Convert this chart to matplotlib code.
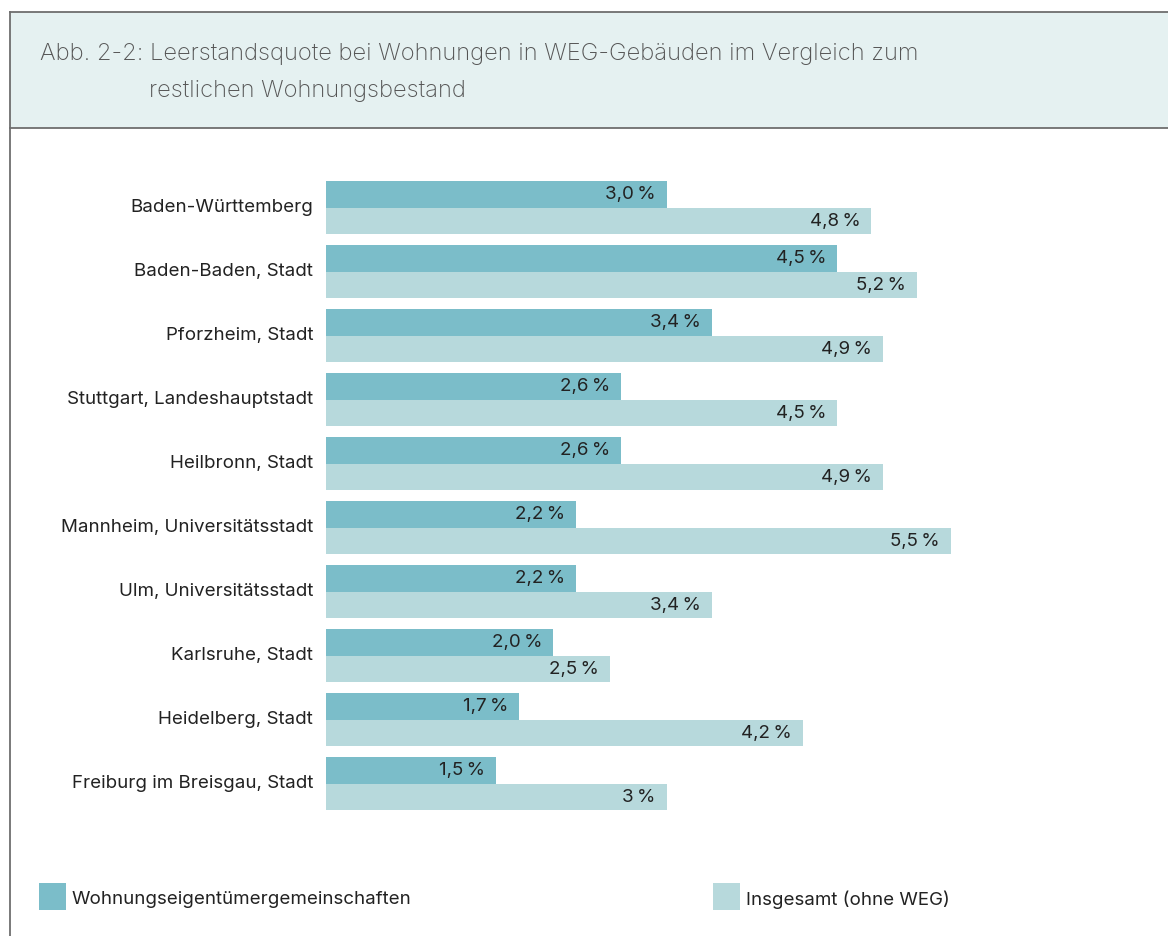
import matplotlib.pyplot as plt
from matplotlib.patches import Rectangle
from matplotlib.lines import Line2D

plt.rcParams['font.family'] = ['Inter', 'DejaVu Sans']

# Daten
regionen = [
    'Baden-Württemberg',
    'Baden-Baden, Stadt',
    'Pforzheim, Stadt',
    'Stuttgart, Landeshauptstadt',
    'Heilbronn, Stadt',
    'Mannheim, Universitätsstadt',
    'Ulm, Universitätsstadt',
    'Karlsruhe, Stadt',
    'Heidelberg, Stadt',
    'Freiburg im Breisgau, Stadt',
]
weg = [3.0, 4.5, 3.4, 2.6, 2.6, 2.2, 2.2, 2.0, 1.7, 1.5]
insgesamt = [4.8, 5.2, 4.9, 4.5, 4.9, 5.5, 3.4, 2.5, 4.2, 3.0]
weg_labels = ['3,0', '4,5', '3,4', '2,6', '2,6', '2,2', '2,2', '2,0', '1,7', '1,5']
ins_labels = ['4,8', '5,2', '4,9', '4,5', '4,9', '5,5', '3,4', '2,5', '4,2', '3']

titel = ['Abb. 2-2: Leerstandsquote bei Wohnungen in WEG-Gebäuden im Vergleich zum',
         'restlichen Wohnungsbestand']
legende = ['Wohnungseigentümergemeinschaften', 'Insgesamt (ohne WEG)']

c_dunkel = '#7bbdc9'
c_hell = '#b7d9dc'
c_rahmen = '#6e6e6e'
fs = 13.5

W, H = 1168, 936
fig = plt.figure(figsize=(W / 100, H / 100), dpi=100)


def fx(px):
    return px / W


def fy(py):
    return 1 - py / H


# Kopfbereich
fig.add_artist(Rectangle((fx(10), fy(128)), fx(W), 116 / H,
                         facecolor='#e5f1f1', edgecolor='none',
                         transform=fig.transFigure))
for y in (12, 128):
    fig.add_artist(Line2D([fx(10), 1], [fy(y), fy(y)], color=c_rahmen,
                          lw=1.3, transform=fig.transFigure))
fig.add_artist(Line2D([fx(10), fx(10)], [fy(12), 0], color=c_rahmen,
                      lw=1.3, transform=fig.transFigure))

fig.text(fx(40), fy(54), titel[0], fontsize=17.1, color='#555555',
         va='center', fontweight='light')
fig.text(fx(149), fy(91), titel[1], fontsize=17.1, color='#555555',
         va='center', fontweight='light')

# Balken
x0, px_pro_pct = 326, 113.6
xmax = 7
ax = fig.add_axes([fx(x0), 0, xmax * px_pro_pct / W, 1])
ax.set_xlim(0, xmax)
ax.set_ylim((H - 208) / 64, -208 / 64)
ax.axis('off')

h = 26.5 / 64
pos = list(range(len(regionen)))
ax.barh([p - h / 2 for p in pos], weg, height=h, color=c_dunkel)
ax.barh([p + h / 2 for p in pos], insgesamt, height=h, color=c_hell)

for p, v, lab in zip(pos, weg, weg_labels):
    ax.annotate(lab + '\u2009%', (v, p - h / 2), xytext=(-11, 0),
                textcoords='offset pixels', ha='right', va='center',
                fontsize=fs, color='#222222')
for p, v, lab in zip(pos, insgesamt, ins_labels):
    ax.annotate(lab + '\u2009%', (v, p + h / 2), xytext=(-11, 0),
                textcoords='offset pixels', ha='right', va='center',
                fontsize=fs, color='#222222')
for p, name in zip(pos, regionen):
    ax.annotate(name, (0, p), xytext=(-13, 0), textcoords='offset pixels',
                ha='right', va='center', fontsize=fs, color='#222222')

# Legende
for (lx, farbe), text in zip([(39, c_dunkel), (713, c_hell)], legende):
    fig.add_artist(Rectangle((fx(lx), fy(910)), 27 / W, 27 / H,
                             facecolor=farbe, edgecolor='none',
                             transform=fig.transFigure))
    fig.text(fx(lx + 33), fy(900), text, fontsize=fs, color='#222222',
             va='center')

fig.savefig('out.png', dpi=100)
